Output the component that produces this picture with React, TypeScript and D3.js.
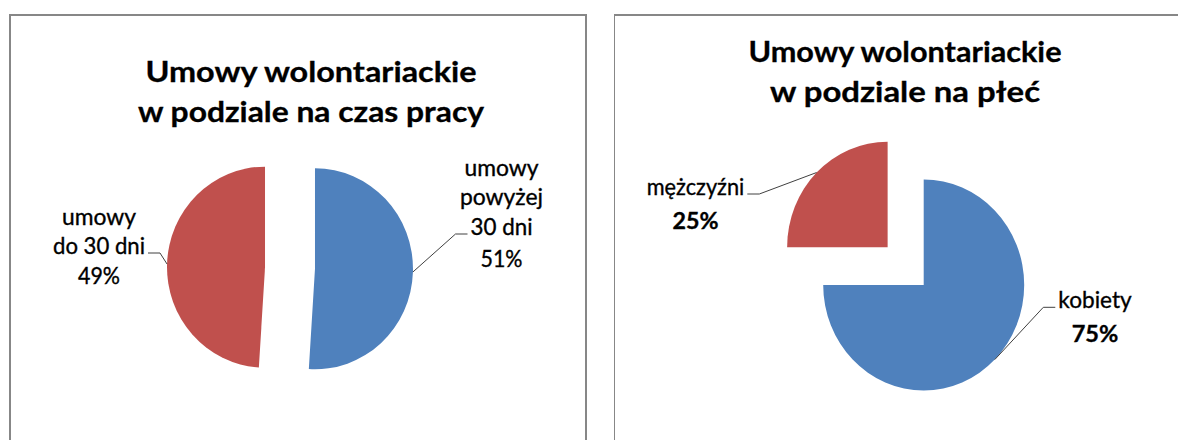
import React, { useEffect, useRef } from "react";
import * as d3 from "d3";

// data
const timeCategories = ["umowy powyżej 30 dni", "umowy do 30 dni"];
const timeValues = [51, 49];
const timeLabelLines = [["umowy", "powyżej", "30 dni"], ["umowy", "do 30 dni"]];

const genderCategories = ["kobiety", "mężczyźni"];
const genderValues = [75, 25];
const genderLabelLines = [["kobiety"], ["mężczyźni"]];

const titles = [
  ["Umowy wolontariackie", "w podziale na czas pracy"],
  ["Umowy wolontariackie", "w podziale na płeć"],
];

const colors = ["#4F81BD", "#C0504D"];
const FONT = "Lato, 'Open Sans', sans-serif";

// layout of the two panels
const panels = [
  {
    categories: timeCategories,
    values: timeValues,
    lines: timeLabelLines,
    title: titles[0],
    titleX: 311,
    titleY: [81.7, 121.7],
    titleW: [331, 346],
    cx: 290,
    cy: 268,
    rx: 98,
    ry: 100.5,
    explode: [25, 25],
    pctBold: false,
    labelSize: 22.5,
    labels: [
      { x: 501.5, y: [176, 205, 235, 266.7], w: [74, 83, 62, 42], leader: 2, side: "left" },
      { x: 99, y: [225, 254, 284.3], w: [74, 92, 42], leader: 1, side: "right" },
    ],
  },
  {
    categories: genderCategories,
    values: genderValues,
    lines: genderLabelLines,
    title: titles[1],
    titleX: 905,
    titleY: [61.7, 101.7],
    titleW: [313, 270],
    cx: 923.7,
    cy: 285,
    rx: 100.5,
    ry: 105.5,
    explode: [0, 51],
    pctBold: true,
    labelSize: 23.5,
    labels: [
      { x: 1095, y: [308.3, 341.7], w: [73.4, 46.6], leader: 0, side: "left" },
      { x: 695.5, y: [195, 229.3], w: [97.6, 46], leader: 0, side: "right" },
    ],
  },
];

const App = () => {
  const svgRef = useRef<SVGSVGElement | null>(null);

  useEffect(() => {
    const svg = d3.select(svgRef.current);
    svg.selectAll("*").remove();

    // frames
    svg
      .append("rect")
      .attr("x", 10)
      .attr("y", 15)
      .attr("width", 576)
      .attr("height", 500)
      .attr("fill", "none")
      .attr("stroke", "#878787")
      .attr("stroke-width", 2);
    svg
      .append("line")
      .attr("x1", 614)
      .attr("x2", 1190)
      .attr("y1", 15)
      .attr("y2", 15)
      .attr("stroke", "#878787")
      .attr("stroke-width", 2);
    svg
      .append("line")
      .attr("x1", 614.5)
      .attr("x2", 614.5)
      .attr("y1", 14)
      .attr("y2", 450)
      .attr("stroke", "#878787")
      .attr("stroke-width", 1);

    panels.forEach((p) => {
      const g = svg.append("g");

      // title
      p.title.forEach((t, i) => {
        g.append("text")
          .attr("x", p.titleX)
          .attr("y", p.titleY[i])
          .attr("text-anchor", "middle")
          .attr("font-family", FONT)
          .attr("font-weight", "bold")
          .attr("font-size", 28.5)
          .attr("textLength", p.titleW[i])
          .attr("lengthAdjust", "spacingAndGlyphs")
          .attr("fill", "#000")
          .attr("stroke", "#000")
          .attr("stroke-width", 0.3)
          .text(t);
      });

      const pie = d3
        .pie<number>()
        .sort(null)
        .value((d) => d)
        .startAngle(0)
        .endAngle(2 * Math.PI);
      const arcs = pie(p.values);
      const arc = d3.arc<d3.PieArcDatum<number>>().innerRadius(0).outerRadius(p.rx);
      const k = p.ry / p.rx;

      arcs.forEach((a, i) => {
        const mid = (a.startAngle + a.endAngle) / 2;
        const ex = Math.sin(mid) * p.explode[i];
        const ey = -Math.cos(mid) * p.explode[i] * k;
        const sx = p.cx + ex;
        const sy = p.cy + ey;

        g.append("path")
          .attr("d", arc(a))
          .attr("transform", `translate(${sx},${sy}) scale(1,${k})`)
          .attr("fill", colors[i]);

        // label lines: category name lines + percentage
        const lab = p.labels[i];
        const pct = `${Math.round((a.value / d3.sum(p.values)) * 100)}%`;
        const lines = [...p.lines[i], pct];
        lines.forEach((ln, j) => {
          const isPct = j === lines.length - 1;
          g.append("text")
            .attr("x", lab.x)
            .attr("y", lab.y[j])
            .attr("text-anchor", "middle")
            .attr("font-family", FONT)
            .attr("font-size", p.labelSize)
            .attr("font-weight", isPct && p.pctBold ? "bold" : "normal")
            .attr("textLength", lab.w[j])
            .attr("lengthAdjust", "spacingAndGlyphs")
            .attr("fill", "#000")
            .attr("stroke", "#000")
            .attr("stroke-width", 0.35)
            .text(ln);
        });

        // leader line from the arc at mid angle to the label
        const ax = sx + Math.sin(mid) * p.rx;
        const ay = sy - Math.cos(mid) * p.ry;
        const lw = lab.w[lab.leader];
        const ly = lab.y[lab.leader] - 1;
        const dir = lab.side === "left" ? -1 : 1;
        const textEdge = lab.x + (dir * lw) / 2;
        const hx1 = textEdge + dir * 3;
        const hx2 = hx1 + dir * 12;
        g.append("path")
          .attr("d", d3.line()([[hx1, ly], [hx2, ly], [ax, ay]]))
          .attr("fill", "none")
          .attr("stroke", "#404040")
          .attr("stroke-width", 1);
      });
    });
  }, []);

  return (
    <svg
      ref={svgRef}
      width={1178}
      height={440}
      style={{ position: "absolute", left: 0, top: 0, background: "#fff" }}
    ></svg>
  );
};

export default App;
